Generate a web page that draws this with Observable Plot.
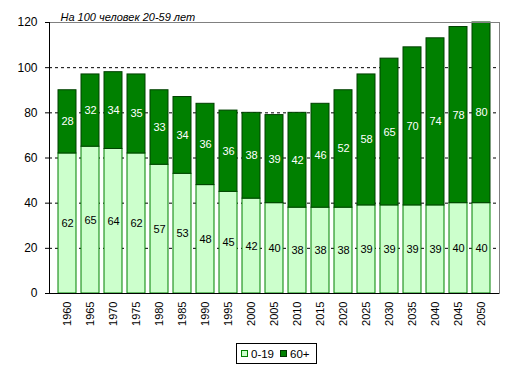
<!DOCTYPE html>
<html>
<head>
<meta charset="utf-8">
<script src="https://cdn.jsdelivr.net/npm/d3@7"></script>
<script src="https://cdn.jsdelivr.net/npm/@observablehq/plot@0.6"></script>
<style>
  body { margin: 0; background: #fff; font-family: "Liberation Sans", Arial, sans-serif; }
  #wrap { position: relative; width: 514px; height: 373px; }
  #legend { position: absolute; left: 236px; top: 343px; height: 19px; border: 1px solid #000; padding-right: 6px;
            display: flex; align-items: center; font-size: 11.5px; box-sizing: content-box; white-space: nowrap; }
  .sw { display: inline-block; flex: none; width: 5px; height: 5px; margin-left: 4px; margin-right: 3px; }
</style>
</head>
<body>
<div id="wrap"></div>
<script>
const years = [1960,1965,1970,1975,1980,1985,1990,1995,2000,2005,2010,2015,2020,2025,2030,2035,2040,2045,2050];
const young = [62,65,64,62,57,53,48,45,42,40,38,38,38,39,39,39,39,40,40];
const old   = [28,32,34,35,33,34,36,36,38,39,42,46,52,58,65,70,74,78,80];
const yTicks = [0,20,40,60,80,100,120];
const gridTicks = [20,40,60,80,100];
const title = "На 100 человек 20-59 лет";
const groups = ["0-19", "60+"];

const youngRows = years.map((yr, i) => ({year: String(yr), y1: 0, y2: young[i], v: young[i]}));
const oldRows = years.map((yr, i) => ({year: String(yr), y1: young[i], y2: young[i] + old[i], v: old[i]}));

const font = "'Liberation Sans', Arial, sans-serif";

const chart = Plot.plot({
  width: 514,
  height: 338,
  marginLeft: 49,
  marginRight: 15,
  marginTop: 22,
  marginBottom: 45,
  style: {fontFamily: font, fontSize: "11px", background: "white", color: "black"},
  x: {type: "band", domain: years.map(String), paddingInner: 0.22, paddingOuter: 0.1, label: null},
  y: {domain: [0, 120], label: null},
  marks: [
    Plot.ruleY(gridTicks, {stroke: "black", strokeDasharray: "3,3", strokeWidth: 1}),
    Plot.barY(youngRows, {x: "year", y1: "y1", y2: "y2", fill: "#ccffcc", stroke: "#008000", strokeWidth: 1, inset: 0}),
    Plot.barY(oldRows, {x: "year", y1: "y1", y2: "y2", fill: "#008000", stroke: "#004000", strokeWidth: 1, inset: 0}),
    Plot.text(youngRows, {x: "year", y: d => (d.y1 + d.y2) / 2, text: d => String(d.v), fill: "black", fontSize: 11}),
    Plot.text(oldRows, {x: "year", y: d => (d.y1 + d.y2) / 2, text: d => String(d.v), fill: "white", fontSize: 11}),
    Plot.frame({stroke: "#808080"}),
    Plot.ruleY([0], {stroke: "black", strokeWidth: 1}),
    Plot.axisY({ticks: yTicks, tickSize: 4, tickPadding: 8, fontSize: 12, label: null}),
    Plot.axisX({tickSize: 0, tickPadding: 8, tickRotate: -90, fontSize: 11, label: null}),
    Plot.text([title], {frameAnchor: "top-left", dx: 11, dy: -9, textAnchor: "start", fontStyle: "italic", fontSize: 11})
  ]
});

// black left axis line along the frame edge
const xr = chart.scale("x").range;
const yr = chart.scale("y").range;
d3.select(chart).append("line")
  .attr("x1", xr[0] + 0.5).attr("x2", xr[0] + 0.5)
  .attr("y1", yr[0]).attr("y2", yr[1])
  .attr("stroke", "black");

const wrap = document.getElementById("wrap");
wrap.appendChild(chart);

const legend = document.createElement("div");
legend.id = "legend";
const colors = {"0-19": ["#ccffcc", "#008000"], "60+": ["#008000", "#003300"]};
groups.forEach((g, i) => {
  const sw = document.createElement("span");
  sw.className = "sw";
  sw.style.background = colors[g][0];
  sw.style.border = "1px solid " + colors[g][1];
  if (i > 0) sw.style.marginLeft = "6px";
  legend.appendChild(sw);
  const t = document.createElement("span");
  t.textContent = g;
  legend.appendChild(t);
});
wrap.appendChild(legend);
</script>
</body>
</html>
